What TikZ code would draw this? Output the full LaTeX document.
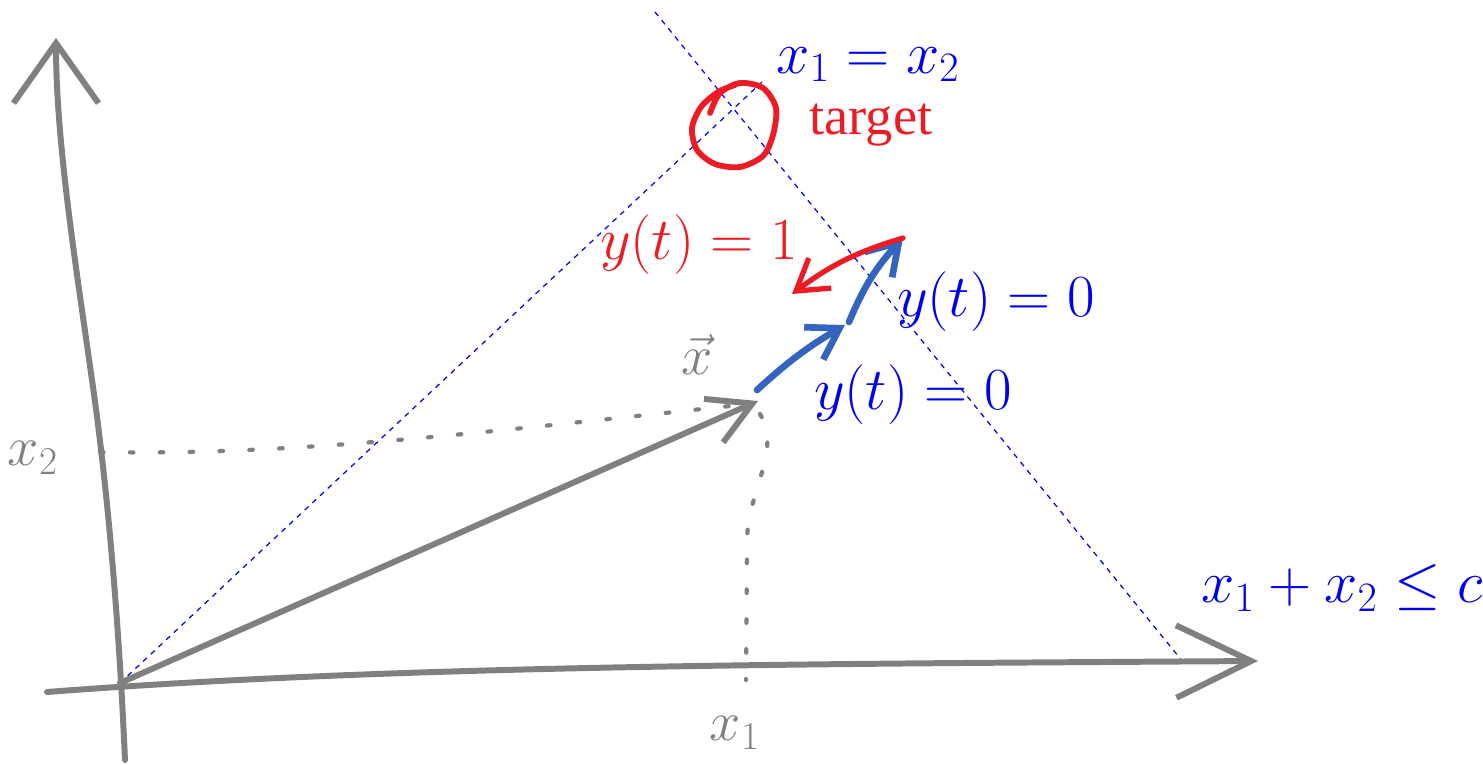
\RequirePackage{fix-cm}
\documentclass[tikz,border=0pt]{standalone}
\usepackage{fontspec}
\newfontfamily\targetfont{Liberation Serif}
\usepackage{tikz}
\usetikzlibrary{arrows.meta}
\definecolor{axisgray}{RGB}{128,128,128}
\definecolor{inkred}{RGB}{237,28,36}
\definecolor{inkblue}{RGB}{52,100,190}
\definecolor{labelblue}{RGB}{0,0,238}

\begin{document}
\begin{tikzpicture}[x=0.02cm,y=-0.02cm,
  axis/.style={axisgray, line width=3.4pt, line cap=round},
  guide/.style={labelblue, dashed, line width=0.7pt},
  dotline/.style={axisgray, line width=2.4pt, line cap=round, dash pattern=on 2pt off 15pt},
  stepline/.style={inkblue, line width=3.8pt, line cap=round, -{Straight Barb[length=0.6cm,width=0.75cm]}},
  backline/.style={inkred, line width=3pt, line cap=round, -{Straight Barb[length=0.6cm,width=0.75cm]}},
  mathlbl/.style={inner sep=0pt, font=\fontsize{34}{38}\selectfont},
  bluelbl/.style={mathlbl, text=labelblue},
  redlbl/.style={mathlbl, text=inkred},
  graylbl/.style={mathlbl, text=axisgray, font=\fontsize{32}{36}\selectfont}]

\useasboundingbox (0,0) rectangle (1483,764);

% points
\coordinate (O) at (120,683);
\coordinate (X) at (758,401);
\coordinate (xstart) at (47,692);
\coordinate (xend) at (1258,661);
\coordinate (ystart) at (125,760);
\coordinate (yend) at (56,38);

% guide lines x1 = x2 and x1 + x2 = c
\coordinate (diagend) at (762,82);
\coordinate (budtop) at (655,12);
\coordinate (budbot) at (1183,662);
\draw[guide] (O) -- (diagend);
\draw[guide] (budtop) -- (budbot);

% axes
\draw[axis, -{Straight Barb[length=1.5cm,width=1.45cm]}]
  (xstart) .. controls (400,665) and (800,664) .. (xend);
\draw[axis, -{Straight Barb[length=1.2cm,width=1.7cm]}]
  (ystart) .. controls (118,600) and (105,470) .. (92,380)
  .. controls (75,260) and (56,140) .. (yend);

% projections of x
\coordinate (ptwo) at (100,452);
\coordinate (pone) at (746,680);
\draw[dotline] (ptwo) .. controls (300,456) and (500,430) .. (740,405);
\draw[dotline] (760,414) .. controls (782,450) and (748,490) .. (747,540) -- (pone);

% the vector x
\draw[axis, -{Straight Barb[length=0.85cm,width=0.95cm]}] (O) -- (X);

% target circle
\draw[inkred, line width=3.3pt, line cap=round]
  plot[smooth] coordinates {(710,113) (720,93) (740,83) (763,88) (776,108) (773,135)
    (763,156) (740,167) (715,164) (697,150) (692,128) (701,107) (718,92) (735,85)};

% steps
\coordinate (s0) at (757,390);
\coordinate (s1) at (845,325);
\coordinate (s2) at (849,322);
\coordinate (s3) at (903,238);
\coordinate (r1) at (792,294);
\draw[stepline] (s0) to[bend left=6] (s1);
\draw[stepline] (s2) to[bend left=10] (s3);
\draw[backline] (s3) to[bend right=10] (r1);

% labels
\node[bluelbl, anchor=base] (diaglbl) at (868,73) {$x_1 = x_2$};
\node[inner sep=0pt, anchor=base, text=inkred, font=\targetfont\fontsize{31}{34}\selectfont] (target) at (871,134) {target};
\node[redlbl] (yone) at (699,245) {$y(t) = 1$};
\node[bluelbl] (yzeroa) at (996,302) {$y(t) = 0$};
\node[bluelbl] (yzerob) at (913,395) {$y(t) = 0$};
\node[graylbl] (xvec) at (697,354) {$\vec{x}$};
\node[graylbl] (xtwolbl) at (33,458) {$x_2$};
\node[graylbl] (xonelbl) at (735,733) {$x_1$};
\node[bluelbl] (budget) at (1342,588) {$x_1 + x_2 \leq c$};

\end{tikzpicture}
\end{document}
